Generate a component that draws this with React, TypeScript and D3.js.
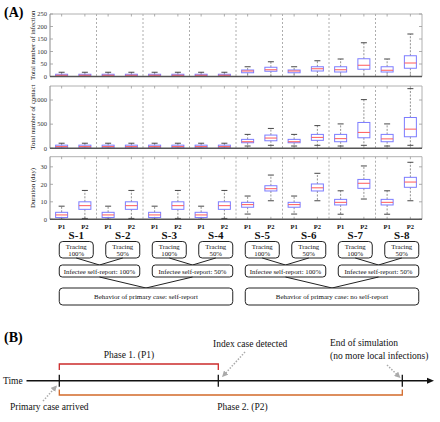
import React from 'react';
import * as d3 from 'd3';

const scenarios = ['S-1', 'S-2', 'S-3', 'S-4', 'S-5', 'S-6', 'S-7', 'S-8'];
const phases = ['P1', 'P2'];
const tracingLabels = ['100%', '50%', '100%', '50%', '100%', '50%', '100%', '50%'];
const selfReportLabels = [
  'Infectee self-report: 100%',
  'Infectee self-report: 50%',
  'Infectee self-report: 100%',
  'Infectee self-report: 50%',
];
const behaviorLabels = ['Behavior of primary case: self-report', 'Behavior of primary case: no self-report'];

// five-number summaries [min, q1, median, q3, max] for S-1 P1, S-1 P2, ..., S-8 P2
const infectionStats = [
  [0, 2, 5, 9, 17], [0, 2, 5, 9, 17],
  [0, 2, 5, 9, 17], [0, 2, 5, 9, 17],
  [0, 2, 5, 9, 17], [0, 2, 5, 9, 17],
  [0, 2, 5, 9, 17], [0, 2, 5, 9, 17],
  [0, 15, 22, 26, 39], [0, 21, 27, 37, 59],
  [0, 15, 22, 26, 39], [0, 22, 31, 39, 63],
  [0, 18, 27, 39, 70], [0, 29, 45, 71, 135],
  [0, 18, 25, 39, 70], [0, 33, 54, 83, 170],
];
const contactStats = [
  [0, 10, 35, 65, 105], [0, 10, 35, 65, 105],
  [0, 10, 35, 65, 105], [0, 10, 35, 65, 105],
  [0, 10, 35, 65, 105], [0, 10, 35, 65, 105],
  [0, 10, 35, 65, 105], [0, 10, 35, 65, 105],
  [47, 115, 136, 185, 288], [62, 156, 212, 274, 411],
  [47, 115, 136, 185, 288], [62, 165, 226, 288, 470],
  [47, 136, 200, 288, 505], [62, 218, 329, 535, 1008],
  [47, 136, 195, 288, 505], [62, 239, 397, 638, 1235],
];
const durationStats = [
  [0, 1, 2.5, 4, 7.5], [0.5, 5.7, 7.8, 10, 16.5],
  [0, 1, 2.5, 4, 7.5], [0.5, 5.7, 7.8, 10, 16.5],
  [0, 1, 2.5, 4, 7.5], [0.5, 5.7, 7.8, 10, 16.5],
  [0, 1, 2.5, 4, 7.5], [0.5, 5.7, 7.8, 10, 16.5],
  [3, 6.9, 8.4, 9.7, 13.3], [10.6, 16.2, 17.5, 19.2, 25.3],
  [3, 6.9, 8.4, 9.7, 13.3], [10.6, 16.2, 18, 20.2, 26.3],
  [2.9, 8.2, 9.7, 11.4, 16.3], [11.6, 17.7, 20.6, 22.8, 30.5],
  [2.9, 8.2, 9.7, 11.4, 16.3], [10.6, 18.3, 21.3, 24, 32.6],
];

const infectionTicks = [0, 50, 100, 150, 200, 250];
const contactTicks = [0, 500, 1000];
const durationTicks = [0, 10, 20, 30];

const FONT = '"Liberation Serif", "Times New Roman", serif';
const LEFT = 50;
const RIGHT = 422;

const boxKeys = scenarios.flatMap((s) => phases.map((p) => `${s}|${p}`));
const xBox = d3.scaleBand<string>().domain(boxKeys).range([LEFT, RIGHT]);
const xGroup = d3.scaleBand<string>().domain(scenarios).range([LEFT, RIGHT]);
const boxCenter = (i: number) => (xBox(boxKeys[i]) as number) + xBox.bandwidth() / 2;
const groupCenter = (i: number) => (xGroup(scenarios[i]) as number) + xGroup.bandwidth() / 2;

type PanelProps = {
  stats: number[][];
  domain: [number, number];
  top: number;
  bottom: number;
  ticks: number[];
  label: string;
};

function Panel({ stats, domain, top, bottom, ticks, label }: PanelProps) {
  const y = d3.scaleLinear().domain(domain).range([bottom, top]);
  const bw = 12;
  return (
    <g>
      {scenarios.slice(1).map((s) => (
        <line key={s} x1={xGroup(s)} x2={xGroup(s)} y1={top} y2={bottom} stroke="#999" strokeWidth={0.8} strokeDasharray="2,2" />
      ))}
      <line x1={LEFT} x2={RIGHT} y1={top} y2={top} stroke="#b0b0b0" strokeWidth={1} />
      <line x1={RIGHT} x2={RIGHT} y1={top} y2={bottom} stroke="#b0b0b0" strokeWidth={1} />
      <line x1={LEFT} x2={LEFT} y1={top} y2={bottom} stroke="#8a8a8a" strokeWidth={1} />
      {ticks.map((t) => (
        <g key={t}>
          <line x1={LEFT} x2={LEFT + 3} y1={y(t)} y2={y(t)} stroke="#999" strokeWidth={0.8} />
          <line x1={RIGHT - 3} x2={RIGHT} y1={y(t)} y2={y(t)} stroke="#999" strokeWidth={0.8} />
          <text x={LEFT - 3} y={y(t)} dy="0.35em" textAnchor="end" fontSize={6.5} fontFamily={FONT} fill="#333">
            {t}
          </text>
        </g>
      ))}
      {boxKeys.map((k, i) => (
        <g key={k}>
          <line x1={boxCenter(i)} x2={boxCenter(i)} y1={top} y2={top + 2.5} stroke="#999" strokeWidth={0.8} />
          <line x1={boxCenter(i)} x2={boxCenter(i)} y1={bottom} y2={bottom - 2.5} stroke="#999" strokeWidth={0.8} />
        </g>
      ))}
      {stats.map((s, i) => {
        const cx = boxCenter(i);
        const [mn, q1, md, q3, mx] = s;
        return (
          <g key={i}>
            <line x1={cx} x2={cx} y1={y(q3)} y2={y(mx)} stroke="#777" strokeWidth={0.8} strokeDasharray="2,1.5" />
            <line x1={cx} x2={cx} y1={y(q1)} y2={y(mn)} stroke="#777" strokeWidth={0.8} strokeDasharray="2,1.5" />
            <line x1={cx - 3} x2={cx + 3} y1={y(mx)} y2={y(mx)} stroke="#333" strokeWidth={0.9} />
            <line x1={cx - 3} x2={cx + 3} y1={y(mn)} y2={y(mn)} stroke="#333" strokeWidth={0.9} />
            <rect x={cx - bw / 2} y={y(q3)} width={bw} height={Math.max(0.5, y(q1) - y(q3))} fill="none" stroke="#7c7cff" strokeWidth={1} />
            <line x1={cx - bw / 2} x2={cx + bw / 2} y1={y(md)} y2={y(md)} stroke="#ff5a5a" strokeWidth={1} />
          </g>
        );
      })}
      <line x1={LEFT} x2={RIGHT} y1={bottom} y2={bottom} stroke="#555" strokeWidth={1.4} />
      <text
        transform={`translate(35,${(top + bottom) / 2}) rotate(-90)`}
        textAnchor="middle"
        fontSize={6.8}
        fontFamily={FONT}
        fill="#222"
      >
        {label}
      </text>
    </g>
  );
}

function Diagram() {
  const c = scenarios.map((_, i) => groupCenter(i) + 3);
  const tw = 17;
  const tTop = 241.5;
  const tBot = 258;
  const sTop = 265;
  const sBot = 277;
  const bTop = 288;
  const bBot = 305;
  return (
    <g fontFamily={FONT} fill="#111">
      {boxKeys.map((k, i) => (
        <text key={k} x={boxCenter(i)} y={228.5} textAnchor="middle" fontSize={6.5} fontWeight="bold">
          {k.split('|')[1]}
        </text>
      ))}
      {scenarios.map((s, i) => (
        <text key={s} x={c[i]} y={238.5} textAnchor="middle" fontSize={11} fontWeight="bold">
          {s}
        </text>
      ))}
      {scenarios.map((s, i) => (
        <g key={s}>
          <rect x={c[i] - tw} y={tTop} width={tw * 2} height={tBot - tTop} rx={3.5} fill="#fff" stroke="#222" strokeWidth={1} />
          <text x={c[i]} y={248.5} textAnchor="middle" fontSize={6.8}>Tracing</text>
          <text x={c[i]} y={256} textAnchor="middle" fontSize={6.8}>{tracingLabels[i]}</text>
        </g>
      ))}
      {selfReportLabels.map((lab, k) => {
        const l = c[2 * k] - tw;
        const r = c[2 * k + 1] + tw;
        const mid = (c[2 * k] + c[2 * k + 1]) / 2;
        return (
          <g key={k}>
            <line x1={c[2 * k]} y1={tBot} x2={mid} y2={sTop} stroke="#222" strokeWidth={1} />
            <line x1={c[2 * k + 1]} y1={tBot} x2={mid} y2={sTop} stroke="#222" strokeWidth={1} />
            <rect x={l} y={sTop} width={r - l} height={sBot - sTop} rx={3} fill="#fff" stroke="#222" strokeWidth={1} />
            <text x={(l + r) / 2} y={273.5} textAnchor="middle" fontSize={6.8}>{lab}</text>
          </g>
        );
      })}
      {behaviorLabels.map((lab, h) => {
        const l = c[4 * h] - tw;
        const r = c[4 * h + 3] + tw;
        const m1 = (c[4 * h] + c[4 * h + 1]) / 2;
        const m2 = (c[4 * h + 2] + c[4 * h + 3]) / 2;
        const mid = (l + r) / 2;
        return (
          <g key={h}>
            <line x1={m1} y1={sBot} x2={mid} y2={bTop} stroke="#222" strokeWidth={1} />
            <line x1={m2} y1={sBot} x2={mid} y2={bTop} stroke="#222" strokeWidth={1} />
            <rect x={l} y={bTop} width={r - l} height={bBot - bTop} rx={3.5} fill="#fff" stroke="#222" strokeWidth={1} />
            <text x={mid} y={299} textAnchor="middle" fontSize={7}>{lab}</text>
          </g>
        );
      })}
    </g>
  );
}

const timelineEvents = ['Primary case arrived', 'Index case detected', 'End of simulation'];
const phaseLabels = ['Phase 1. (P1)', 'Phase 2. (P2)'];

function Timeline() {
  const ty = 380.7;
  const xs = [59.3, 218.3, 402.3];
  return (
    <g fontFamily={FONT} fill="#111">
      <defs>
        <marker id="arr" viewBox="0 0 10 10" refX="9" refY="5" markerWidth="4" markerHeight="4" orient="auto">
          <path d="M0,0 L10,5 L0,10 z" fill="#aaa" />
        </marker>
      </defs>
      <text x={3} y={ty + 3.5} fontSize={9.5}>Time</text>
      <line x1={26.5} x2={428} y1={ty} y2={ty} stroke="#111" strokeWidth={1.4} />
      <path d={`M427,${ty - 3} L434,${ty} L427,${ty + 3} z`} fill="#111" />
      {xs.map((x) => (
        <line key={x} x1={x} x2={x} y1={ty - 6} y2={ty + 6} stroke="#111" strokeWidth={1.3} />
      ))}
      <path d={`M${xs[0]},370 V364 H${xs[1]} V370`} fill="none" stroke="#cc2b2b" strokeWidth={1.3} />
      <path d={`M${xs[0]},389.5 V395 H${xs[2]} V389.5`} fill="none" stroke="#d2692a" strokeWidth={1.3} />
      <text x={129} y={358} textAnchor="middle" fontSize={9.5}>{phaseLabels[0]}</text>
      <text x={242.5} y={409.5} textAnchor="middle" fontSize={9.5}>{phaseLabels[1]}</text>
      <text x={10} y={410} fontSize={9.5}>{timelineEvents[0]}</text>
      <text x={213} y={347} fontSize={9.5}>{timelineEvents[1]}</text>
      <text x={330} y={346} fontSize={9.5}>{timelineEvents[2]}</text>
      <text x={330} y={359} fontSize={9.5}>(no more local infections)</text>
      <line x1={43} y1={401} x2={56.5} y2={386} stroke="#aaa" strokeWidth={1.5} strokeDasharray="1.5,1.5" markerEnd="url(#arr)" />
      <line x1={245} y1={352} x2={222.5} y2={376.5} stroke="#aaa" strokeWidth={1.5} strokeDasharray="1.5,1.5" markerEnd="url(#arr)" />
      <line x1={387} y1={365} x2={400} y2={377.5} stroke="#aaa" strokeWidth={1.5} strokeDasharray="1.5,1.5" markerEnd="url(#arr)" />
    </g>
  );
}

export default function App() {
  return (
    <svg
      width={440}
      height={422}
      viewBox="0 0 440 422"
      style={{ position: 'absolute', left: 0, top: 0, background: '#fff' }}
    >
      <rect width={440} height={422} fill="#fff" />
      <text x={4} y={17} fontSize={14} fontWeight="bold" fontFamily={FONT}>(A)</text>
      <Panel stats={infectionStats} domain={[0, 250]} top={14} bottom={76.5} ticks={infectionTicks} label="Total number of infection" />
      <Panel stats={contactStats} domain={[0, 1290]} top={86} bottom={148.3} ticks={contactTicks} label="Total number of contact" />
      <Panel stats={durationStats} domain={[0, 35.8]} top={156.7} bottom={219.3} ticks={durationTicks} label="Duration (day)" />
      <Diagram />
      <text x={4} y={342} fontSize={14} fontWeight="bold" fontFamily={FONT}>(B)</text>
      <Timeline />
    </svg>
  );
}
